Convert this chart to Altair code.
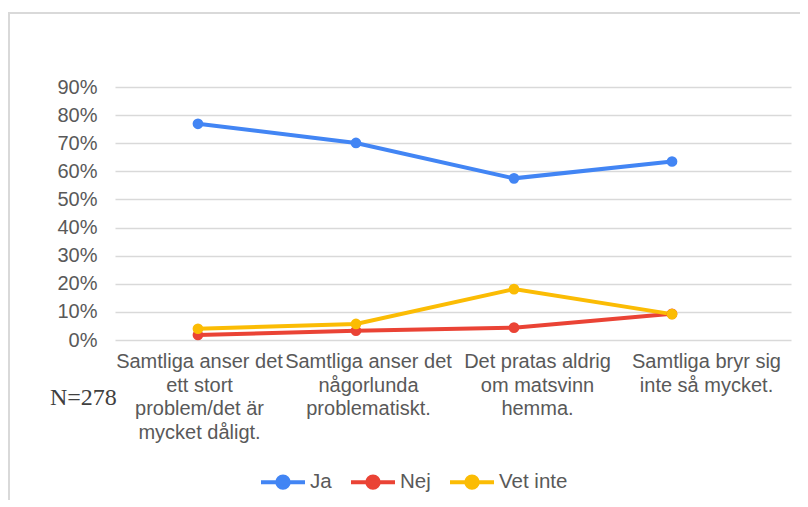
import altair as alt
import pandas as pd

categories = [
    "Samtliga anser det\nett stort\nproblem/det är\nmycket dåligt.",
    "Samtliga anser det\nnågorlunda\nproblematiskt.",
    "Det pratas aldrig\nom matsvinn\nhemma.",
    "Samtliga bryr sig\ninte så mycket.",
]
series = ["Ja", "Nej", "Vet inte"]
ja = [0.769, 0.701, 0.575, 0.635]
nej = [0.018, 0.033, 0.044, 0.093]
vet_inte = [0.040, 0.057, 0.181, 0.092]
colors = ["#4285F4", "#EA4335", "#FBBC04"]
y_ticks = [0, 0.1, 0.2, 0.3, 0.4, 0.5, 0.6, 0.7, 0.8, 0.9]
note = "N=278"

rows = []
for s, vals in zip(series, [ja, nej, vet_inte]):
    for i, v in enumerate(vals):
        rows.append({"idx": i, "serie": s, "value": v})
df = pd.DataFrame(rows)
labels_df = pd.DataFrame({"idx": list(range(len(categories))), "label": categories})

W, H = 676, 253
FONT = "Liberation Sans"
GREY = "#595959"
FS = 20

xscale = alt.Scale(domain=[-0.525, 3.753], nice=False, zero=False)
yscale = alt.Scale(domain=[0, 0.9], nice=False)

legend_path = ("M-1,0L1,0 "
               "M0.26,0A0.26,0.26 0 1,1 -0.26,0A0.26,0.26 0 1,1 0.26,0Z")

color_scale = alt.Scale(domain=series, range=colors)

yaxis = alt.Axis(values=y_ticks, format=".0%", title=None, domain=False,
                 ticks=False, labelPadding=18, labelFontSize=FS, labelOverlap=False,
                 labelColor=GREY, labelFont=FONT, gridColor="#d9d9d9",
                 gridWidth=1.5)

base = alt.Chart(df)

lines = base.mark_line(strokeWidth=4).encode(
    x=alt.X("idx:Q", scale=xscale, axis=None),
    y=alt.Y("value:Q", scale=yscale, axis=yaxis),
    color=alt.Color("serie:N", scale=color_scale, sort=series,
                    legend=alt.Legend(title=None, orient="none", direction="horizontal",
                                      legendX=144, legendY=371,
                                      symbolType=legend_path, symbolSize=1936,
                                      symbolStrokeWidth=4, labelFontSize=20.5,
                                      labelColor=GREY, labelFont=FONT,
                                      columnPadding=11, labelOffset=3)),
)

points = base.mark_point(filled=True, size=115, opacity=1).encode(
    x=alt.X("idx:Q", scale=xscale, axis=None),
    y=alt.Y("value:Q", scale=yscale, axis=yaxis),
    color=alt.Color("serie:N", scale=color_scale, sort=series),
)

data_layer = alt.layer(lines, points)

xlabels = alt.Chart(labels_df).mark_text(
    baseline="top", align="center", lineBreak="\n", lineHeight=23.7,
    fontSize=FS, font=FONT, color=GREY,
).encode(
    x=alt.X("idx:O", scale=alt.Scale(type="point", padding=0.5), axis=None),
    y=alt.value(H + 12),
    text="label:N",
)

note_df = pd.DataFrame({"t": [note]})
note_text = alt.Chart(note_df).mark_text(
    align="left", baseline="middle", fontSize=24, font="Liberation Serif", color="#404040"
).encode(x=alt.value(-65), y=alt.value(311), text="t:N")

frame_df = pd.DataFrame({"a": [1]})
frame_top = alt.Chart(frame_df).mark_rule(color="#d9d9d9", strokeWidth=2).encode(
    x=alt.value(-107), x2=alt.value(W + 20), y=alt.value(-74))
frame_left = alt.Chart(frame_df).mark_rule(color="#d9d9d9", strokeWidth=2).encode(
    x=alt.value(-106), y=alt.value(-74), y2=alt.value(H + 200))

chart = alt.layer(frame_top, frame_left, data_layer, xlabels, note_text).resolve_scale(
    x="independent"
).properties(
    width=W, height=H,
    autosize=alt.AutoSizeParams(type="none"),
    padding={"left": 107, "top": 79, "right": 9, "bottom": 160},
).configure_view(stroke=None)

chart.save("out.html", embed_options={"renderer": "svg", "actions": False})
